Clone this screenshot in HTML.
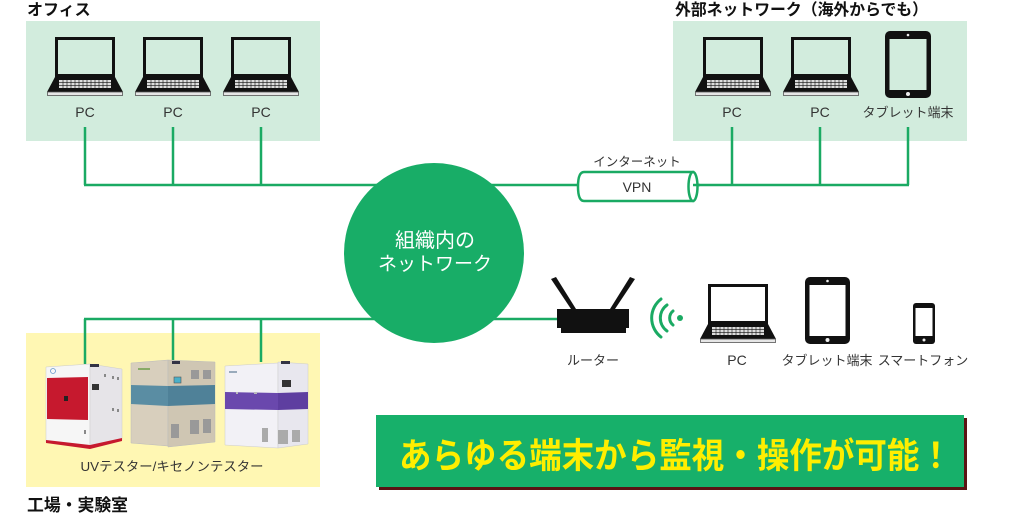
<!DOCTYPE html>
<html><head><meta charset="utf-8">
<style>
html,body{margin:0;padding:0;background:#fff;}
svg{display:block;}
text{font-family:"Liberation Sans","Noto Sans CJK JP",sans-serif;}
</style></head>
<body>
<svg width="1024" height="527" viewBox="0 0 1024 527" xmlns="http://www.w3.org/2000/svg">
<defs>
  <g id="laptop">
    <rect x="9.5" y="1.5" width="57" height="37" fill="none" stroke="#111" stroke-width="3"/>
    <polygon points="8,40 68,40 76,55 0,55" fill="#111"/>
    <rect x="12" y="43" width="52" height="8" fill="#ddd"/>
    <g stroke="#111" stroke-width="0.6">
      <line x1="12" y1="45.7" x2="64" y2="45.7"/>
      <line x1="12" y1="48.4" x2="64" y2="48.4"/>
      <line x1="16" y1="43" x2="16" y2="51"/><line x1="20" y1="43" x2="20" y2="51"/>
      <line x1="24" y1="43" x2="24" y2="51"/><line x1="28" y1="43" x2="28" y2="51"/>
      <line x1="32" y1="43" x2="32" y2="51"/><line x1="36" y1="43" x2="36" y2="51"/>
      <line x1="40" y1="43" x2="40" y2="51"/><line x1="44" y1="43" x2="44" y2="51"/>
      <line x1="48" y1="43" x2="48" y2="51"/><line x1="52" y1="43" x2="52" y2="51"/>
      <line x1="56" y1="43" x2="56" y2="51"/><line x1="60" y1="43" x2="60" y2="51"/>
    </g>
    <rect x="0.5" y="55" width="75" height="3.5" fill="#e6e6e6" stroke="#555" stroke-width="0.8"/>
  </g>
</defs>

<!-- Office -->
<text x="27" y="15" font-size="16" font-weight="bold" fill="#111">オフィス</text>
<rect x="26" y="21" width="294" height="120" fill="#d2ecdd"/>
<use href="#laptop" x="47" y="37"/>
<use href="#laptop" x="135" y="37"/>
<use href="#laptop" x="223" y="37"/>
<g font-size="14" fill="#333" text-anchor="middle">
  <text x="85" y="117">PC</text>
  <text x="173" y="117">PC</text>
  <text x="261" y="117">PC</text>
</g>

<!-- External -->
<text x="675" y="15" font-size="16" font-weight="bold" fill="#111" textLength="253" lengthAdjust="spacingAndGlyphs">外部ネットワーク（海外からでも）</text>
<rect x="673" y="21" width="294" height="120" fill="#d2ecdd"/>
<use href="#laptop" x="695" y="37"/>
<use href="#laptop" x="783" y="37"/>
<rect x="885" y="31" width="46" height="67" rx="5" fill="#111"/>
<rect x="889.5" y="39" width="37" height="51" fill="#d2ecdd"/>
<circle cx="908" cy="35" r="1.3" fill="#eee"/>
<circle cx="908" cy="94" r="2" fill="#eee"/>
<g font-size="14" fill="#333" text-anchor="middle">
  <text x="732" y="117">PC</text>
  <text x="820" y="117">PC</text>
</g>
<text x="908" y="117" font-size="13" fill="#333" text-anchor="middle">タブレット端末</text>

<!-- Green lines -->
<g stroke="#1aaa63" stroke-width="2.5" fill="none">
  <line x1="85" y1="127" x2="85" y2="185"/>
  <line x1="173" y1="127" x2="173" y2="185"/>
  <line x1="261" y1="127" x2="261" y2="185"/>
  <line x1="84" y1="185" x2="578" y2="185"/>
  <line x1="692" y1="185" x2="909" y2="185"/>
  <line x1="732" y1="127" x2="732" y2="185"/>
  <line x1="820" y1="127" x2="820" y2="185"/>
  <line x1="908" y1="127" x2="908" y2="185"/>
  <line x1="84" y1="319" x2="560" y2="319"/>
  <line x1="85" y1="319" x2="85" y2="364"/>
  <line x1="173" y1="319" x2="173" y2="362"/>
  <line x1="261" y1="319" x2="261" y2="362"/>
</g>

<!-- VPN cylinder -->
<path d="M584,172 L693,172 L693,201 L584,201 Q578,201 578,186.5 Q578,172 584,172 Z" fill="#fff" stroke="#1aaa63" stroke-width="2.5"/>
<ellipse cx="693" cy="186.5" rx="4.5" ry="14.5" fill="#fff" stroke="#1aaa63" stroke-width="2.5"/>
<line x1="693" y1="185" x2="700" y2="185" stroke="#1aaa63" stroke-width="2.5"/>
<text x="637" y="166" font-size="12.5" fill="#333" text-anchor="middle">インターネット</text>
<text x="637" y="192" font-size="14" fill="#333" text-anchor="middle">VPN</text>

<!-- Central circle -->
<circle cx="434" cy="253" r="90" fill="#18ad67"/>
<text x="435" y="247" font-size="20" fill="#fff" text-anchor="middle">組織内の</text>
<text x="435" y="270" font-size="19" fill="#fff" text-anchor="middle">ネットワーク</text>

<!-- Router -->
<polygon points="551,279 556,277 576,309 571,309" fill="#111"/>
<polygon points="635,279 630,277 610,309 615,309" fill="#111"/>
<rect x="557" y="309" width="72" height="19" fill="#111"/>
<rect x="561" y="327" width="65" height="6" fill="#111"/>
<text x="593" y="365" font-size="13" fill="#333" text-anchor="middle">ルーター</text>

<!-- Wifi -->
<g stroke="#1aaa63" stroke-width="3" fill="none" stroke-linecap="round">
  <path d="M673,311 A9,9 0 0,0 673,325"/>
  <path d="M667,305 A16,16 0 0,0 667,331"/>
  <path d="M661,299 A24,24 0 0,0 661,337"/>
</g>
<circle cx="680" cy="318" r="3" fill="#1aaa63"/>

<!-- Bottom devices -->
<use href="#laptop" x="700" y="284"/>
<text x="737" y="365" font-size="14" fill="#333" text-anchor="middle">PC</text>
<rect x="805" y="277" width="45" height="67" rx="5" fill="#111"/>
<rect x="809.5" y="285" width="36" height="51" fill="#fff"/>
<circle cx="827.5" cy="281" r="1.3" fill="#eee"/>
<circle cx="827.5" cy="340" r="2" fill="#eee"/>
<text x="827" y="365" font-size="13" fill="#333" text-anchor="middle">タブレット端末</text>
<rect x="913" y="303" width="22" height="41" rx="3" fill="#111"/>
<rect x="915.5" y="308" width="17" height="28" fill="#fff"/>
<circle cx="924" cy="340" r="1.5" fill="#eee"/>
<text x="923" y="365" font-size="13" fill="#333" text-anchor="middle">スマートフォン</text>

<!-- Factory -->
<rect x="26" y="333" width="294" height="154" fill="#fff7b3"/>
<line x1="85" y1="333" x2="85" y2="364" stroke="#1aaa63" stroke-width="2.5"/>
<line x1="173" y1="333" x2="173" y2="362" stroke="#1aaa63" stroke-width="2.5"/>
<line x1="261" y1="333" x2="261" y2="362" stroke="#1aaa63" stroke-width="2.5"/>

<!-- Machine 1 -->
<polygon points="46,367 90,364 90,447 46,442" fill="#f6f6f6" stroke="#ccc" stroke-width="0.5"/>
<polygon points="90,364 122,369 122,440 90,447" fill="#e6e4e8" stroke="#ccc" stroke-width="0.5"/>
<polygon points="47,378 88,377 88,420 47,419" fill="#c6192e"/>
<rect x="64" y="396" width="4" height="5" fill="#222"/>
<polygon points="46,440 90,445 122,438 122,441 90,449 46,443" fill="#c6192e"/>
<rect x="90" y="364" width="9" height="3" fill="#334"/>
<rect x="92" y="384" width="7" height="6" fill="#333"/>
<g fill="#888"><rect x="104" y="374" width="2" height="3"/><rect x="112" y="376" width="2" height="3"/><rect x="117" y="377" width="2" height="3"/><rect x="112" y="408" width="2" height="3"/><rect x="117" y="409" width="2" height="3"/><rect x="84" y="430" width="2" height="4"/></g>
<circle cx="53" cy="371" r="2.5" fill="none" stroke="#69c" stroke-width="0.8"/>

<!-- Machine 2 -->
<polygon points="131,363 168,360 168,446 131,443" fill="#d8cfbd" stroke="#bbb" stroke-width="0.5"/>
<polygon points="168,360 215,362 215,442 168,447" fill="#cfc6b3" stroke="#bbb" stroke-width="0.5"/>
<polygon points="131,385 168,386 168,406 131,404" fill="#5a8da3"/>
<polygon points="168,386 215,385 215,404 168,406" fill="#4f8198"/>
<rect x="174" y="377" width="7" height="6" fill="#4ab0c8" stroke="#555" stroke-width="0.6"/>
<rect x="172" y="361" width="8" height="3" fill="#334"/>
<g fill="#999"><rect x="191" y="370" width="8" height="9"/><rect x="203" y="370" width="8" height="9"/><rect x="171" y="424" width="8" height="14"/><rect x="190" y="420" width="9" height="14"/><rect x="203" y="419" width="8" height="14"/></g>
<rect x="138" y="368" width="12" height="2" fill="#8a6"/>

<!-- Machine 3 -->
<polygon points="225,366 278,363 278,448 225,445" fill="#f2f1f6" stroke="#ccc" stroke-width="0.5"/>
<polygon points="278,362 308,364 308,444 278,448" fill="#e8e7ee" stroke="#ccc" stroke-width="0.5"/>
<polygon points="225,392 278,393 278,410 225,409" fill="#6a48ad"/>
<polygon points="278,393 308,392 308,409 278,410" fill="#5e3ea0"/>
<rect x="282" y="380" width="9" height="7" fill="#333"/>
<rect x="281" y="361" width="9" height="3" fill="#334"/>
<g fill="#aaa"><rect x="262" y="428" width="6" height="14"/><rect x="278" y="430" width="10" height="14"/><rect x="292" y="430" width="8" height="12"/></g>
<g fill="#bbb"><rect x="236" y="392" width="2" height="2"/><rect x="254" y="392" width="3" height="2"/></g>
<rect x="229" y="371" width="8" height="2" fill="#9ab"/>

<text x="172" y="471" font-size="13" fill="#333" text-anchor="middle" textLength="183" lengthAdjust="spacingAndGlyphs">UVテスター/キセノンテスター</text>
<text x="27" y="511" font-size="17" font-weight="bold" fill="#111" textLength="101" lengthAdjust="spacingAndGlyphs">工場・実験室</text>

<!-- Banner -->
<rect x="379" y="418" width="588" height="72" fill="#5a1414"/>
<rect x="376" y="415" width="588" height="72" fill="#17b06a"/>
<text x="399" y="468" font-size="35" font-weight="bold" fill="#ffee00" textLength="553" lengthAdjust="spacingAndGlyphs">あらゆる端末から監視・操作が可能！</text>
</svg>
</body></html>
